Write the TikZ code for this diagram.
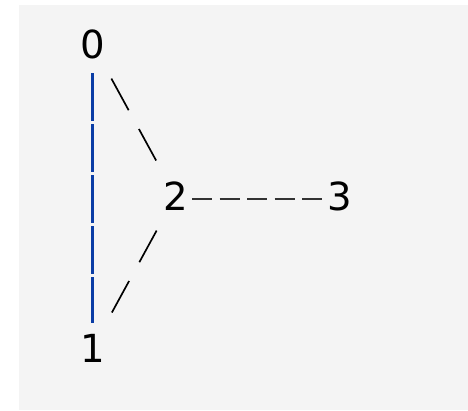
\documentclass[tikz,border=0pt]{standalone}
\usepackage{fontspec}
\setmainfont{DejaVu Sans}
\usepackage{tikz}
\usetikzlibrary{positioning, backgrounds}
\definecolor{panelgray}{RGB}{244,244,244}
\definecolor{pipeblue}{RGB}{10,60,165}
\definecolor{dashgray}{RGB}{50,50,50}
\tikzset{
    vertnum/.style={inner sep=0pt, font=\fontsize{22}{27}\selectfont, text=black},
    pipeedge/.style={draw=pipeblue, line width=1.5pt, dash pattern=on 0.95cm off 0.07cm, shorten <=0.58cm, shorten >=0.5cm},
    slashedge/.style={draw=black, line width=0.95pt, dash pattern=on 0.72cm off 0.428cm, shorten <=0.788cm, shorten >=0.808cm},
    dashedge/.style={draw=dashgray, line width=1.4pt, dash pattern=on 0.4cm off 0.15cm, shorten <=0.33cm, shorten >=0.34cm}
}

\begin{document}
\begin{tikzpicture}[on grid]

\useasboundingbox (0,0) rectangle (9.36,-8.2);
\fill[panelgray] (0.38,-0.1) rectangle (9.36,-8.2);

\node[vertnum] (n0) at (1.85,-0.88) {0};
\node[vertnum, below=6.08cm of n0] (n1) {1};
\node[vertnum, below right=3.04cm and 1.66cm of n0] (n2) {2};
\node[vertnum, right=3.29cm of n2] (n3) {3};

\draw[pipeedge] (n0.center) -- (n1.center);
\draw[slashedge] (n0.center) -- (n2.center);
\draw[slashedge] (n2.center) -- (n1.center);
\draw[dashedge] ([yshift=-0.06cm]n2.center) -- ([yshift=-0.06cm]n3.center);

\end{tikzpicture}
\end{document}
